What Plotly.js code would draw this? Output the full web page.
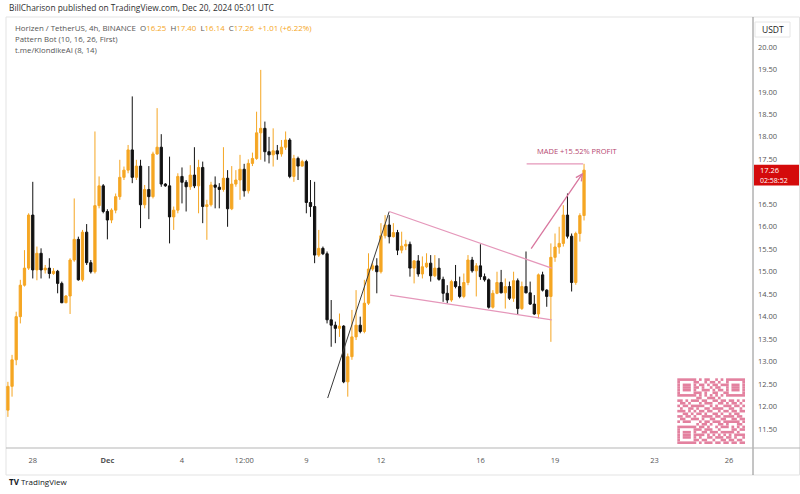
<!DOCTYPE html>
<html><head><meta charset="utf-8">
<script src="https://cdn.plot.ly/plotly-3.0.1.min.js"></script>
<style>html,body{margin:0;padding:0;background:#fff;}#chart{width:800px;height:494px;}</style>
</head><body><div id="chart"></div>
<script>
// ---------- data ----------
const startTime = Date.UTC(2024, 10, 27, 0, 0);   // first 4h bar
const barHours = 4;
const opens = [11.92,12.45,13.04,14.00,14.70,15.08,16.26,15.04,15.41,15.04,
15.08,14.96,15.01,14.74,14.31,14.46,15.26,15.72,14.82,15.88,
15.20,15.00,16.47,16.91,16.34,16.15,16.37,16.67,17.10,17.26,
17.71,17.10,17.35,16.49,16.83,16.67,17.62,17.77,16.95,16.91,
16.22,16.37,17.12,16.99,16.89,17.15,16.91,17.32,16.45,16.49,
16.93,16.88,16.83,17.08,16.40,16.95,17.04,17.28,16.80,17.41,
17.52,18.09,18.19,17.67,17.60,17.69,17.62,17.77,17.93,17.12,
17.52,17.35,17.45,16.54,16.45,15.37,15.52,15.40,13.93,13.81,
13.74,13.79,12.55,13.11,13.55,13.81,13.67,14.30,15.06,15.13,
15.00,15.80,16.04,15.78,15.87,15.48,15.57,15.61,15.08,15.24,
14.95,15.11,15.19,14.91,15.08,14.83,14.52,14.37,14.78,14.67,
14.45,14.76,15.26,15.02,15.13,14.89,14.82,14.21,14.52,14.76,
14.53,14.67,14.41,14.80,14.18,14.67,14.53,14.28,14.06,14.93,
14.59,14.45,15.32,15.55,15.63,16.26,15.79,14.76,15.85,16.25];
const highs = [12.55,13.15,14.11,14.82,15.48,16.30,17.00,15.56,15.52,15.15,
15.30,15.08,15.04,14.78,14.48,15.30,16.63,15.78,15.93,16.06,
15.26,18.12,17.12,16.95,16.39,16.41,16.74,17.49,17.34,17.82,
18.90,17.49,17.49,16.93,17.35,17.67,18.64,18.06,16.97,17.56,
16.45,17.19,17.32,17.04,17.37,17.77,17.49,17.45,16.60,17.00,
17.12,16.97,17.77,17.26,17.35,17.26,17.60,17.40,17.50,17.65,
18.56,19.49,18.34,18.00,18.19,17.82,17.93,18.12,17.97,17.60,
17.56,17.49,17.49,17.04,17.00,15.93,15.56,15.45,14.37,13.89,
14.07,13.81,13.18,14.15,14.59,14.00,14.82,15.41,15.19,15.30,
16.08,16.26,16.26,16.08,15.93,15.89,15.71,15.67,15.26,15.37,
15.34,15.41,15.37,15.37,15.30,14.89,14.70,14.82,15.15,14.89,
14.96,15.37,15.33,15.19,15.61,14.96,14.85,14.59,15.00,15.04,
14.85,14.78,15.00,14.85,14.78,15.45,14.78,14.48,14.96,15.00,
14.61,15.63,15.85,16.00,16.48,16.74,15.85,15.89,16.30,17.40];
const lows = [11.77,12.22,12.92,13.85,14.67,15.04,14.85,14.81,14.85,14.96,
14.85,14.93,14.52,14.30,14.30,14.06,15.22,14.80,14.78,15.15,
14.96,14.96,16.41,16.30,15.72,16.08,16.30,16.60,17.04,17.19,
16.97,17.04,15.97,16.41,16.17,16.63,17.60,16.89,16.89,15.63,
15.93,16.30,16.52,16.34,16.82,16.86,16.30,16.08,15.71,16.45,
16.41,16.41,16.78,16.00,16.37,16.89,16.60,16.67,16.74,17.35,
17.49,17.49,17.45,17.41,17.34,17.49,17.56,17.71,17.08,17.00,
17.04,17.34,16.30,16.22,15.19,15.33,15.37,13.85,13.33,13.41,
13.55,12.52,12.22,13.04,13.48,13.63,13.63,14.26,15.02,14.52,
14.96,15.74,15.63,15.76,15.37,15.41,15.48,14.89,14.74,14.89,
14.85,15.08,14.78,14.88,14.80,14.33,14.30,14.33,14.63,14.41,
14.41,14.70,14.98,14.45,14.82,14.78,14.18,14.18,14.50,14.52,
14.18,14.37,14.33,14.04,14.15,14.52,14.26,14.04,13.96,14.56,
14.22,13.44,15.22,15.40,15.56,15.74,14.56,14.71,15.67,16.14];
const closes = [12.45,13.04,14.00,14.70,15.08,16.26,15.04,15.41,15.04,15.08,
14.96,15.01,14.74,14.31,14.46,15.26,15.72,14.82,15.88,15.20,
15.00,16.47,16.91,16.34,16.15,16.37,16.67,17.10,17.26,17.71,
17.10,17.35,16.49,16.83,16.67,17.62,17.77,16.95,16.91,16.22,
16.37,17.12,16.99,16.89,17.15,16.91,17.32,16.45,16.49,16.93,
16.88,16.83,17.08,16.40,16.95,17.04,17.28,16.80,17.41,17.52,
18.09,18.19,17.67,17.60,17.69,17.62,17.77,17.93,17.12,17.52,
17.35,17.45,16.54,16.45,15.37,15.52,15.40,13.93,13.81,13.74,
13.79,12.55,13.11,13.55,13.81,13.67,14.30,15.06,15.13,15.00,
15.80,16.04,15.78,15.87,15.48,15.57,15.61,15.08,15.24,14.95,
15.11,15.19,14.91,15.08,14.83,14.52,14.37,14.78,14.67,14.45,
14.76,15.26,15.02,15.13,14.89,14.82,14.21,14.52,14.76,14.53,
14.67,14.41,14.80,14.18,14.67,14.53,14.28,14.06,14.93,14.59,
14.45,15.32,15.55,15.63,16.26,15.79,14.76,15.85,16.25,17.26];

const xTickVals = ['2024-11-28','2024-12-01','2024-12-04','2024-12-06 12:00','2024-12-09','2024-12-12','2024-12-16','2024-12-19','2024-12-23','2024-12-26'];
const xTickText = ['28','<b>Dec</b>','4','12:00','9','12','16','19','23','26'];
const yTickVals = [11.5,12,12.5,13,13.5,14,14.5,15,15.5,16,16.5,17,17.5,18,18.5,19,19.5,20];
const yTickText = ['11.50','12.00','12.50','13.00','13.50','14.00','14.50','15.00','15.50','16.00','16.50','','17.50','18.00','18.50','19.00','19.50','20.00'];

// chart drawings (time, price)
const poleTimes = ['2024-12-09 20:36','2024-12-12 08:00'];
const polePrices = [12.19, 16.34];
const flagUpperTimes = ['2024-12-12 08:00','2024-12-18 20:48'];
const flagUpperPrices = [16.34, 15.08];
const flagLowerTimes = ['2024-12-12 08:48','2024-12-18 20:48'];
const flagLowerPrices = [14.48, 13.93];
const arrowTimes = ['2024-12-18 00:00','2024-12-20 03:07'];
const arrowPrices = [15.48, 17.20];
const targetTimes = ['2024-12-17 20:36','2024-12-20 03:07'];
const targetPrice = 17.40;
const profitLabel = 'MADE +15.52% PROFIT';
const profitLabelTime = '2024-12-19 21:12';
const profitLabelPrice = 17.69;
const countdown = '02:58:52';

const qrRows = [
"1111111"+"01011001010"+"1111111",
"1000001"+"10010110100"+"1000001",
"1011101"+"01101011011"+"1011101",
"1011101"+"10100101100"+"1011101",
"1011101"+"00111010110"+"1011101",
"1000001"+"11010011001"+"1000001",
"1111111"+"01010101010"+"1111111",
"0000000"+"11001110100"+"0000000",
"1101011"+"10110011011"+"0110101",
"0110100"+"01011100110"+"1011010",
"1011011"+"11100101001"+"1101101",
"0100110"+"10011011110"+"0110010",
"1110101"+"01101100101"+"1011011",
"0011010"+"11010011010"+"0101100",
"1101101"+"00111101101"+"1110110",
"0110011"+"10100110011"+"0011011",
"1011100"+"01011011101"+"1111101",
"0000000"+"10110100110"+"1000110",
"1111111"+"01101001011"+"1010101",
"1000001"+"11011100100"+"0011011",
"1011101"+"00110111011"+"1110100",
"1011101"+"11101010101"+"0101111",
"1011101"+"01001101110"+"1101001",
"1000001"+"10110010011"+"0110110",
"1111111"+"01011101101"+"1011011"];

// ---------- build ----------
const UP = '#f5a623', DOWN = '#111111';
const PINK = '#e597ba', ARROW = '#d9779f', LABEL = '#b5476f';
function fmt(ms){ return new Date(ms).toISOString().slice(0,16).replace('T',' '); }
const times = opens.map((_, i) => fmt(startTime + i*barHours*3600e3));

const W = 800, H = 494, ML = 6, MR = 47, MT = 17, MB = 46;
const PW = W-ML-MR, PH = H-MT-MB;
const px = x => (x-ML)/PW, py = y => (H-MB-y)/PH;

const n = closes.length;
const lastO = opens[n-1], lastH = highs[n-1], lastL = lows[n-1], lastC = closes[n-1];
const chg = lastC - closes[n-2];
const chgPct = chg / closes[n-2] * 100;
const org = s => '<span style="color:'+UP+'">'+s+'</span>';
const sp = '\u00a0\u00a0';

const shapes = [
  {type:'rect', xref:'paper', yref:'paper', x0:px(6), x1:px(799.5), y0:py(475), y1:py(17), line:{color:'#e3e3e3', width:1}, layer:'below'},
  {type:'line', xref:'paper', yref:'paper', x0:px(753), x1:px(753), y0:py(17), y1:py(475), line:{color:'#8a8a8a', width:1}},
  {type:'line', xref:'paper', yref:'paper', x0:px(6), x1:px(800), y0:py(448), y1:py(448), line:{color:'#b5b5b5', width:1}},
  {type:'rect', xref:'paper', yref:'paper', x0:px(755), x1:px(790), y0:py(37), y1:py(22), line:{color:'#e6e6e6', width:1}},
  {type:'line', xref:'x', yref:'y', x0:poleTimes[0], y0:polePrices[0], x1:poleTimes[1], y1:polePrices[1], line:{color:'#3a3a3a', width:1}},
  {type:'line', xref:'x', yref:'y', x0:flagUpperTimes[0], y0:flagUpperPrices[0], x1:flagUpperTimes[1], y1:flagUpperPrices[1], line:{color:PINK, width:1.3}},
  {type:'line', xref:'x', yref:'y', x0:flagLowerTimes[0], y0:flagLowerPrices[0], x1:flagLowerTimes[1], y1:flagLowerPrices[1], line:{color:PINK, width:1.3}},
  {type:'line', xref:'x', yref:'y', x0:targetTimes[0], y0:targetPrice, x1:targetTimes[1], y1:targetPrice, line:{color:PINK, width:1.3}},
  {type:'rect', xref:'paper', yref:'y', x0:px(754), x1:px(799), y0:lastC-0.34, y1:lastC+0.12, fillcolor:'#d40b0b', line:{width:0}}
];

const qrL = 677.3, qrT = 378.3, mw = 67.7/25, mh = 65.7/25;
qrRows.forEach((row, r) => {
  let c = 0;
  while (c < row.length) {
    if (row[c] === '1') {
      let e = c; while (e+1 < row.length && row[e+1] === '1') e++;
      shapes.push({type:'rect', xref:'paper', yref:'paper',
        x0:px(qrL + c*mw), x1:px(qrL + (e+1)*mw), y0:py(qrT + (r+1)*mh), y1:py(qrT + r*mh),
        fillcolor:'#e3819f', line:{width:0}});
      c = e+1;
    } else c++;
  }
});

const annotations = [
  {xref:'paper', yref:'paper', x:px(6.5), y:py(8), xanchor:'left', yanchor:'middle', showarrow:false,
   text:'BillCharison published on TradingView.com, Dec 20, 2024 05:01 UTC', font:{size:8.4, color:'#2f2f2f'}},
  {xref:'paper', yref:'paper', x:px(13), y:py(27.5), xanchor:'left', yanchor:'middle', showarrow:false,
   text:'Horizen / TetherUS, 4h, BINANCE'+sp+'O'+org(lastO.toFixed(2))+sp+'H'+org(lastH.toFixed(2))+sp+'L'+org(lastL.toFixed(2))+sp+'C'+org(lastC.toFixed(2))+sp+org('+'+chg.toFixed(2)+' (+'+chgPct.toFixed(2)+'%)'),
   font:{size:7.9, color:'#555'}},
  {xref:'paper', yref:'paper', x:px(13), y:py(38.8), xanchor:'left', yanchor:'middle', showarrow:false,
   text:'Pattern Bot (10, 16, 26, First)', font:{size:7.8, color:'#555'}},
  {xref:'paper', yref:'paper', x:px(13), y:py(50), xanchor:'left', yanchor:'middle', showarrow:false,
   text:'t.me/KlondikeAI (8, 14)', font:{size:7.8, color:'#555'}},
  {xref:'paper', yref:'paper', x:px(772.5), y:py(29.5), xanchor:'center', yanchor:'middle', showarrow:false,
   text:'USDT', font:{size:8.5, color:'#222'}},
  {xref:'paper', yref:'paper', x:px(7), y:py(481), xanchor:'left', yanchor:'middle', showarrow:false,
   text:'<b>TV</b> TradingView', font:{size:8, color:'#131722'}},
  {xref:'paper', yref:'y', x:px(758), y:lastC, yshift:0, xanchor:'left', yanchor:'middle', showarrow:false,
   text:lastC.toFixed(2), font:{size:7.5, color:'#fff'}},
  {xref:'paper', yref:'y', x:px(758), y:lastC, yshift:-10.5, xanchor:'left', yanchor:'middle', showarrow:false,
   text:countdown, font:{size:7, color:'#fff'}},
  {xref:'x', yref:'y', x:profitLabelTime, y:profitLabelPrice, xanchor:'center', yanchor:'middle', showarrow:false,
   text:profitLabel, font:{size:7.5, color:LABEL}},
  {xref:'x', yref:'y', axref:'x', ayref:'y', x:arrowTimes[1], y:arrowPrices[1], ax:arrowTimes[0], ay:arrowPrices[0],
   text:'', showarrow:true, arrowhead:5, arrowsize:1, arrowwidth:1.3, arrowcolor:ARROW, standoff:0}
];

const trace = {
  type:'candlestick', x:times, open:opens, high:highs, low:lows, close:closes,
  increasing:{line:{color:UP, width:1}, fillcolor:UP},
  decreasing:{line:{color:DOWN, width:1}, fillcolor:DOWN},
  whiskerwidth:0, hoverinfo:'skip'
};

const layout = {
  width:W, height:H, margin:{l:ML, r:MR, t:MT, b:MB, pad:0},
  paper_bgcolor:'#fff', plot_bgcolor:'#fff', showlegend:false, boxgap:0.22,
  font:{family:'"Open Sans", "Noto Sans", sans-serif', size:8, color:'#555'},
  xaxis:{type:'date', range:['2024-11-26 22:10','2024-12-26 23:03'], rangeslider:{visible:false},
    showgrid:false, zeroline:false, showline:false, ticks:'', tickvals:xTickVals, ticktext:xTickText,
    tickfont:{size:7.5, color:'#555'}, ticklabelstandoff:6, fixedrange:true},
  yaxis:{side:'right', range:[11.078, 20.667], showgrid:false, zeroline:false, showline:false, ticks:'',
    tickvals:yTickVals, ticktext:yTickText, tickfont:{size:7.5, color:'#555'}, ticklabelstandoff:4, fixedrange:true},
  shapes:shapes, annotations:annotations
};

Plotly.newPlot('chart', [trace], layout, {displayModeBar:false, staticPlot:true});
</script></body></html>
